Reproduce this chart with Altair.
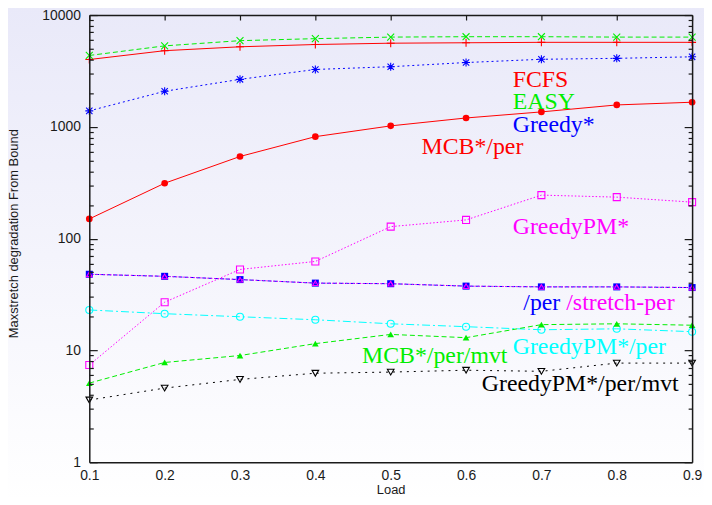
import altair as alt
import pandas as pd

# ---------------- data ----------------
loads = [0.1, 0.2, 0.3, 0.4, 0.5, 0.6, 0.7, 0.8, 0.9]
fcfs = [4000, 4800, 5200, 5450, 5600, 5650, 5700, 5700, 5700]
easy = [4350, 5300, 5900, 6150, 6350, 6400, 6400, 6350, 6350]
greedy = [1390, 2080, 2660, 3260, 3450, 3760, 4020, 4100, 4230]
mcb_per = [150, 313, 543, 817, 1020, 1200, 1360, 1570, 1660]
greedypm = [7.4, 27, 53, 62.5, 128, 147, 245, 235, 212]
per = [48, 46, 43, 40, 39.5, 37.6, 37, 37, 36.5]
stretch_per = [48, 46, 43, 40, 39.5, 37.6, 37, 37, 36.5]
greedypm_per = [23, 21.3, 20, 18.8, 17.3, 16.3, 15.3, 15.6, 14.7]
mcb_per_mvt = [5.1, 7.8, 9.0, 11.5, 13.9, 13.0, 17.0, 17.3, 16.8]
greedypm_per_mvt = [3.6, 4.6, 5.5, 6.25, 6.4, 6.65, 6.5, 7.7, 7.7]

y_major = [1, 10, 100, 1000, 10000]
y_minor = [m * d for d in [1, 10, 100, 1000] for m in range(2, 10)]

label_texts = ["FCFS", "EASY", "Greedy*", "MCB*/per", "GreedyPM*", "/per", "/stretch-per",
               "MCB*/per/mvt", "GreedyPM*/per", "GreedyPM*/per/mvt"]
label_x = [0.662, 0.662, 0.662, 0.541, 0.662, 0.676, 0.733, 0.462, 0.662, 0.621]
label_y = [2260, 1440, 903, 577, 111, 23.1, 23.1, 7.7, 9.2, 4.33]
label_colors = ["#ff0000", "#00ee00", "#0000ff", "#ff0000", "#ff00ff", "#0000ff", "#ff00ff",
                "#00ee00", "#00ffff", "#000000"]

# ---------------- styles ----------------
PLUS = "M-1,0L1,0M0,-1L0,1"
XMARK = "M-1,-1L1,1M-1,1L1,-1"
STAR = "M-1,0L1,0M0,-1L0,1M-0.8,-0.8L0.8,0.8M-0.8,0.8L0.8,-0.8"

series = [
    # values, color, dash, shape, filled, size
    (fcfs, "#ff0000", None, PLUS, False, 64),
    (easy, "#00ee00", [5, 3], XMARK, False, 49),
    (greedy, "#0000ff", [2, 3], STAR, False, 64),
    (mcb_per, "#ff0000", None, "circle", True, 45),
    (greedypm, "#ff00ff", [1.5, 2], "square", False, 50),
    (per, "#0000ff", [4, 2], "square", True, 50),
    (stretch_per, "#ff00ff", [1.5, 2], "triangle-up", False, 30),
    (greedypm_per, "#00ffff", [8, 3, 2, 3], "circle", False, 50),
    (mcb_per_mvt, "#00ee00", [5, 3], "triangle-up", True, 45),
    (greedypm_per_mvt, "#000000", [2, 5], "triangle-down", False, 45),
]

W, H = 608, 451
XS = alt.Scale(domain=[0.1, 0.9], nice=False, zero=False)
YS = alt.Scale(type="log", domain=[1, 10000], nice=False)
AX = "#1a1a1a"

main_x = alt.Axis(orient="bottom", values=loads, format=".1f", ticks=False, grid=False,
                  labelFontSize=14, labelFont="Liberation Sans", labelColor=AX,
                  labelPadding=6, labelFlush=False, domainColor=AX, domainWidth=1.5,
                  title="Load", titleFont="Liberation Sans", titleFontSize=13,
                  titleFontWeight="normal", titleColor=AX, titleY=32,
                  titleBaseline="alphabetic", zindex=1)
main_y = alt.Axis(orient="left", values=y_major, format="d", ticks=False, grid=False,
                  labelFontSize=14, labelFont="Liberation Sans", labelColor=AX,
                  labelPadding=9, labelFlush=False, domainColor=AX, domainWidth=1.5,
                  title="Maxstretch degradation From Bound", titleFont="Liberation Sans",
                  titleFontSize=13, titleFontWeight="normal", titleColor=AX,
                  titleX=-76, titleY=220, titleAngle=270, titleAlign="center",
                  titleBaseline="middle", zindex=1)


def tick_axis(orient, values, size, domain=False):
    return alt.Axis(orient=orient, offset=-(W if orient in ("left", "right") else H),
                    values=values, tickSize=size, tickColor=AX, tickWidth=1.2,
                    labels=False, domain=domain, domainColor=AX, domainWidth=1.5,
                    grid=False, title=None, zindex=1)


axes_plan = {
    0: (main_x, main_y),
    1: (None, tick_axis("right", y_major, 8)),
    2: (None, tick_axis("right", y_minor, 4)),
    3: (None, tick_axis("left", y_major, 8, domain=True)),
    4: (None, tick_axis("left", y_minor, 4)),
    5: (tick_axis("bottom", loads, 5, domain=True), None),
}

layers = []

bg = alt.Chart(pd.DataFrame({"k": [0]})).mark_rect(
    fill=alt.Gradient(gradient="linear", x1=0, y1=0, x2=0, y2=1,
                      stops=[alt.GradientStop(color="#e9e9f9", offset=0),
                             alt.GradientStop(color="#ffffff", offset=1)])
).encode(x=alt.value(-90), x2=alt.value(W + 20), y=alt.value(-8), y2=alt.value(H + 40))
layers.append(bg)

for i, (vals, color, dash, shape, filled, size) in enumerate(series):
    df = pd.DataFrame({"x": loads, "y": vals})
    ax_x, ax_y = axes_plan.get(i, (None, None))
    line_kw = dict(color=color, strokeWidth=1)
    if dash:
        line_kw["strokeDash"] = dash
    line = alt.Chart(df).mark_line(**line_kw).encode(
        x=alt.X("x:Q", scale=XS, axis=ax_x),
        y=alt.Y("y:Q", scale=YS, axis=ax_y),
    )
    layers.append(line)
    pt_kw = dict(shape=shape, size=size, filled=filled, opacity=1)
    if filled:
        pt_kw["color"] = color
    else:
        pt_kw["stroke"] = color
        pt_kw["strokeWidth"] = 1.1
        pt_kw["fill"] = "transparent"
    pts = alt.Chart(df).mark_point(**pt_kw).encode(
        x=alt.X("x:Q", scale=XS, axis=None),
        y=alt.Y("y:Q", scale=YS, axis=None),
    )
    layers.append(pts)

for t, lx, ly, c in zip(label_texts, label_x, label_y, label_colors):
    tdf = pd.DataFrame({"x": [lx], "y": [ly], "t": [t]})
    layers.append(
        alt.Chart(tdf).mark_text(align="left", baseline="alphabetic", font="Liberation Serif",
                                 fontSize=24, color=c).encode(
            x=alt.X("x:Q", scale=XS, axis=None),
            y=alt.Y("y:Q", scale=YS, axis=None),
            text="t:N",
        )
    )

chart = alt.layer(*layers).resolve_axis(x="independent", y="independent").properties(
    width=W, height=H,
    autosize=alt.AutoSizeParams(type="none"),
    padding={"left": 82, "top": 5, "right": 12, "bottom": 33},
    background="white",
).configure_view(stroke=None)

chart.save("out.html", embed_options={"renderer": "svg", "actions": False})
